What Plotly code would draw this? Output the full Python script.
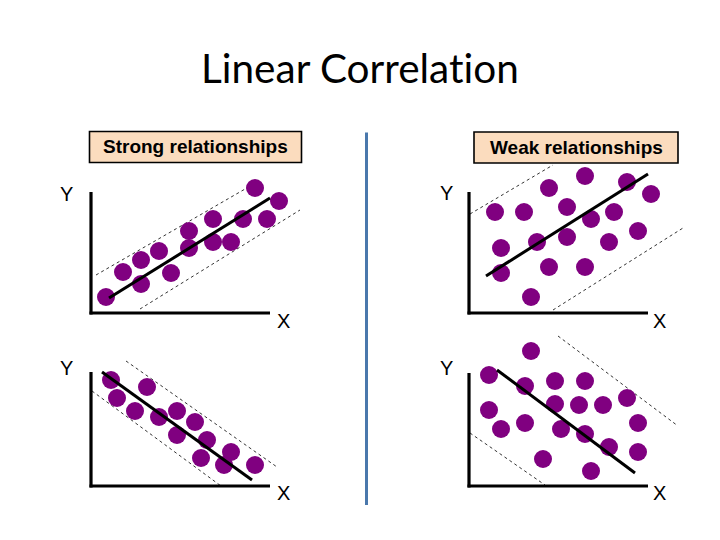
import plotly.graph_objects as go

# the page body adds an 8px margin, so the figure is 8px smaller and all
# pixel positions are taken relative to that offset
OFF = 8
W, H = 720 - OFF, 540 - OFF

# ---- data (local units measured from each panel's axis origin, y upward) ----
p1_x = [15, 32, 50, 50, 68, 80, 98, 98, 122, 122, 140, 152, 164, 176, 188]
p1_y = [16, 41, 53, 29, 62, 40, 82, 65, 94, 71, 71, 94, 125, 94, 112]
p1_fit_x, p1_fit_y = [18, 179], [15, 115]
p1_up_x, p1_up_y = [5, 161], [38, 128]
p1_lo_x, p1_lo_y = [49, 209], [4, 103]

p2_x = [26, 55, 80, 116, 158, 182, 98, 122, 145, 32, 68, 98, 140, 169, 32, 80, 116, 62]
p2_y = [101, 101, 125, 137, 131, 119, 106, 94, 101, 65, 71, 76, 71, 82, 40, 46, 46, 16]
p2_fit_x, p2_fit_y = [17, 179], [37, 139]
p2_up_x, p2_up_y = [1, 84], [99, 148]
p2_lo_x, p2_lo_y = [84, 214], [3, 85]

p3_x = [20, 56, 26, 44, 68, 86, 104, 86, 116, 140, 110, 133, 164]
p3_y = [106, 99, 88, 75, 69, 75, 64, 51, 46, 34, 28, 21, 21]
p3_fit_x, p3_fit_y = [11, 161], [114, 6]
p3_up_x, p3_up_y = [35, 186], [125, 19]
p3_lo_x, p3_lo_y = [1, 130], [95, 0]

p4_x = [62, 20, 56, 86, 116, 158, 86, 110, 134, 20, 32, 56, 92, 116, 140, 169, 169, 74, 122]
p4_y = [135, 111, 100, 105, 105, 88, 82, 81, 81, 76, 57, 63, 57, 52, 39, 63, 34, 27, 15]
p4_fit_x, p4_fit_y = [28, 166], [116, 13]
p4_up_x, p4_up_y = [89, 209], [150, 60]
p4_lo_x, p4_lo_y = [1, 76], [53, 1]

axis_len = [(179, 121), (179, 121), (179, 114), (179, 113)]

title = "Linear Correlation"
box_labels = ["Strong relationships", "Weak relationships"]

panels = [
    (p1_x, p1_y, p1_fit_x, p1_fit_y, p1_up_x, p1_up_y, p1_lo_x, p1_lo_y),
    (p2_x, p2_y, p2_fit_x, p2_fit_y, p2_up_x, p2_up_y, p2_lo_x, p2_lo_y),
    (p3_x, p3_y, p3_fit_x, p3_fit_y, p3_up_x, p3_up_y, p3_lo_x, p3_lo_y),
    (p4_x, p4_y, p4_fit_x, p4_fit_y, p4_up_x, p4_up_y, p4_lo_x, p4_lo_y),
]


def fx_(px):
    return (px - OFF) / W


def fy_(py):
    return 1 - (py - OFF) / H


# ---- layout geometry (window pixels) ----
origins = [(91, 313), (469, 313), (91, 486), (469, 486)]
domains = [((80, 310), (160, 320)), ((460, 690), (160, 320)),
           ((80, 310), (330, 495)), ((460, 690), (330, 495))]

PURPLE = "#800080"
fig = go.Figure()
layout_axes = {}
shapes = []

for i, (pan, (ox, oy), ((dx0, dx1), (dy0, dy1)), (ax_len, ay_len)) in enumerate(
        zip(panels, origins, domains, axis_len)):
    n = i + 1
    xa = "x" if n == 1 else f"x{n}"
    ya = "y" if n == 1 else f"y{n}"
    xk = "xaxis" if n == 1 else f"xaxis{n}"
    yk = "yaxis" if n == 1 else f"yaxis{n}"
    layout_axes[xk] = dict(domain=[fx_(dx0), fx_(dx1)], range=[dx0 - ox, dx1 - ox],
                           visible=False, anchor=ya, fixedrange=True)
    layout_axes[yk] = dict(domain=[fy_(dy1), fy_(dy0)], range=[oy - dy1, oy - dy0],
                           visible=False, anchor=xa, fixedrange=True)
    px, py, fx, fy, ux, uy, lx, ly = pan
    for dx, dy in ((ux, uy), (lx, ly)):
        fig.add_trace(go.Scatter(x=dx, y=dy, mode="lines", xaxis=xa, yaxis=ya,
                                 line=dict(color="black", width=0.8, dash="3px,3px"),
                                 hoverinfo="skip", showlegend=False))
    fig.add_trace(go.Scatter(x=px, y=py, mode="markers", xaxis=xa, yaxis=ya,
                             marker=dict(color=PURPLE, size=18, line=dict(width=0)),
                             cliponaxis=False, showlegend=False))
    fig.add_trace(go.Scatter(x=fx, y=fy, mode="lines", xaxis=xa, yaxis=ya,
                             line=dict(color="black", width=3),
                             hoverinfo="skip", showlegend=False))
    # L-shaped axes
    shapes.append(dict(type="line", xref=xa, yref=ya, x0=0, x1=0, y0=-1.5, y1=ay_len,
                       line=dict(color="black", width=3.2)))
    shapes.append(dict(type="line", xref=xa, yref=ya, x0=-1.5, x1=ax_len, y0=0, y1=0,
                       line=dict(color="black", width=3.2)))

# separator
shapes.append(dict(type="line", xref="paper", yref="paper", x0=fx_(366.5), x1=fx_(366.5),
                   y0=fy_(132.5), y1=fy_(505), line=dict(color="#4A78AC", width=3)))

# label boxes
boxes = [(89.5, 131.5, 301.5, 162.5), (474, 132, 678, 163)]
annotations = []
for (bx0, by0, bx1, by1), lab in zip(boxes, box_labels):
    shapes.append(dict(type="rect", xref="paper", yref="paper", x0=fx_(bx0), x1=fx_(bx1),
                       y0=fy_(by1), y1=fy_(by0), fillcolor="#FBDCBE",
                       line=dict(color="black", width=1.6)))
    annotations.append(dict(xref="paper", yref="paper", x=fx_((bx0 + bx1) / 2),
                            y=fy_((by0 + by1) / 2), text=f"<b>{lab}</b>", showarrow=False,
                            font=dict(family="Liberation Sans, Arial", size=19, color="black"),
                            xanchor="center", yanchor="middle"))

# axis letters
letters = [("Y", 67, 194), ("X", 283, 321), ("Y", 446, 193), ("X", 659, 321),
           ("Y", 67, 368), ("X", 283, 493), ("Y", 446, 368), ("X", 659, 493)]
for t, lx_, ly_ in letters:
    annotations.append(dict(xref="paper", yref="paper", x=fx_(lx_), y=fy_(ly_), text=t,
                            showarrow=False, xanchor="center", yanchor="middle",
                            font=dict(family="Liberation Sans, Arial", size=20, color="black")))

# zero-width non-joiner keeps Lato from forming its "ti" ligature
title_html = title.replace("ti", "t\u200ci")
annotations.append(dict(xref="paper", yref="paper", x=fx_(360), y=fy_(68), text=title_html,
                        showarrow=False, xanchor="center", yanchor="middle",
                        font=dict(family="Lato, Calibri, sans-serif", size=40.5, color="black")))

fig.update_layout(width=W, height=H, margin=dict(l=0, r=0, t=0, b=0),
                  paper_bgcolor="white", plot_bgcolor="white",
                  shapes=shapes, annotations=annotations, **layout_axes)

fig.write_html("out.html")
